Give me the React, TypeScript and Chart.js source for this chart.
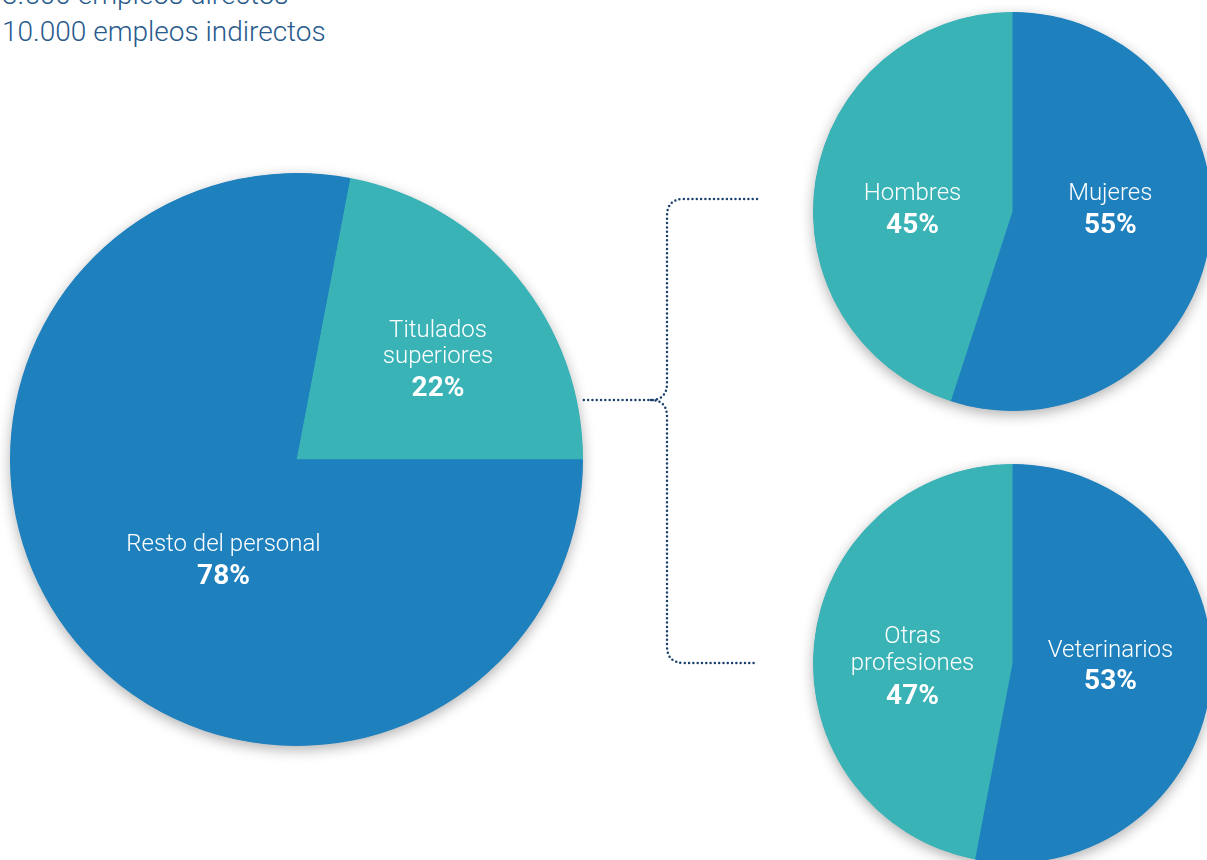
import React, { useEffect, useRef } from "react";
import { Chart, registerables } from "chart.js";

Chart.register(...registerables);

// ---- data ----
const mainLabels = ["Titulados superiores", "Resto del personal"];
const mainValues = [22, 78];

const genderLabels = ["Mujeres", "Hombres"];
const genderValues = [55, 45];

const professionLabels = ["Veterinarios", "Otras profesiones"];
const professionValues = [53, 47];

const headerLines = ["3.500 empleos directos", "10.000 empleos indirectos"];

const BLUE = "#1f80be";
const TEAL = "#3ab3b7";

const shadowPlugin = {
  id: "pieShadow",
  beforeDatasetsDraw(chart: any) {
    const arc = chart.getDatasetMeta(0).data[0];
    if (!arc) return;
    const { x, y, outerRadius } = arc.getProps(["x", "y", "outerRadius"], true);
    const ctx = chart.ctx;
    ctx.save();
    ctx.shadowColor = "rgba(0,0,0,0.32)";
    ctx.shadowBlur = 14;
    ctx.shadowOffsetY = 4;
    ctx.beginPath();
    ctx.arc(x, y, outerRadius - 0.5, 0, Math.PI * 2);
    ctx.fillStyle = BLUE;
    ctx.fill();
    ctx.restore();
  },
};

type PieProps = {
  labels: string[];
  values: number[];
  colors: string[];
  rotation: number;
  size: number;
  left: number;
  top: number;
};

function Pie({ labels, values, colors, rotation, size, left, top }: PieProps) {
  const ref = useRef<HTMLCanvasElement>(null);
  useEffect(() => {
    if (!ref.current) return;
    const chart = new Chart(ref.current, {
      type: "pie",
      data: {
        labels,
        datasets: [
          {
            data: values,
            backgroundColor: colors,
            borderWidth: 0,
          },
        ],
      },
      options: {
        animation: false,
        responsive: false,
        rotation,
        layout: { padding: 20 },
        plugins: {
          legend: { display: false },
          tooltip: { enabled: false },
        },
      },
      plugins: [shadowPlugin],
    });
    return () => chart.destroy();
  }, []);
  return (
    <canvas
      ref={ref}
      width={size}
      height={size}
      style={{ position: "absolute", left, top, width: size, height: size }}
    />
  );
}

type LineSpec = { text: string; baseline: number; size: number; weight: number };

function Label({ x, lines }: { x: number; lines: LineSpec[] }) {
  return (
    <>
      {lines.map((l, i) => (
        <div
          key={i}
          style={{
            position: "absolute",
            left: x,
            top: l.baseline - 0.842 * l.size,
            transform: "translateX(-50%)",
            fontFamily: "Roboto, 'Open Sans', sans-serif",
            fontSize: l.size,
            fontWeight: l.weight,
            lineHeight: `${l.size}px`,
            color: "#ffffff",
            whiteSpace: "nowrap",
          }}
        >
          {l.text}
        </div>
      ))}
    </>
  );
}

const NAME = 24;
const PCT = 28;
const HEAD = 28;

function splitName(s: string): string[] {
  const parts = s.split(" ");
  if (s === "Titulados superiores" || s === "Otras profesiones") return parts;
  return [s];
}

export default function App() {
  return (
    <div
      style={{
        position: "absolute",
        left: 0,
        top: 0,
        width: 1207,
        height: 860,
        overflow: "hidden",
        background: "#ffffff",
      }}
    >
      {/* header */}
      {headerLines.map((t, i) => (
        <div
          key={t}
          style={{
            position: "absolute",
            left: 2,
            top: 41.7 - 36.7 * (headerLines.length - 1 - i) - 0.842 * HEAD,
            fontFamily: "Roboto, sans-serif",
            fontWeight: 300,
            fontSize: HEAD,
            lineHeight: `${HEAD}px`,
            color: "#285a8c",
            whiteSpace: "nowrap",
          }}
        >
          {t}
        </div>
      ))}

      {/* pies */}
      <Pie
        labels={mainLabels}
        values={mainValues}
        colors={[TEAL, BLUE]}
        rotation={90 - (mainValues[0] / 100) * 360}
        size={613}
        left={-10}
        top={153}
      />
      <Pie
        labels={genderLabels}
        values={genderValues}
        colors={[BLUE, TEAL]}
        rotation={0}
        size={439}
        left={792.5}
        top={-8.5}
      />
      <Pie
        labels={professionLabels}
        values={professionValues}
        colors={[BLUE, TEAL]}
        rotation={0}
        size={439}
        left={792.5}
        top={443.5}
      />

      {/* brace connector */}
      <svg
        width={1207}
        height={860}
        style={{ position: "absolute", left: 0, top: 0, pointerEvents: "none" }}
      >
        <path
          d="M757,199 H684 Q667,199 667,216 V383 Q667,400 651,400 H580 M651,400 Q667,400 667,417 V646 Q667,663 684,663 H757"
          fill="none"
          stroke="#1c406d"
          strokeWidth={2.5}
          strokeLinecap="round"
          strokeDasharray="0 4.3"
        />
      </svg>

      {/* labels */}
      <Label
        x={438}
        lines={[
          ...splitName(mainLabels[0]).map((t, i) => ({ text: t, baseline: 337 + i * 26, size: NAME, weight: 300 })),
          { text: `${mainValues[0]}%`, baseline: 397, size: PCT, weight: 700 },
        ]}
      />
      <Label
        x={223.5}
        lines={[
          { text: mainLabels[1], baseline: 551, size: NAME, weight: 300 },
          { text: `${mainValues[1]}%`, baseline: 585, size: PCT, weight: 700 },
        ]}
      />
      <Label
        x={1110.3}
        lines={[
          { text: genderLabels[0], baseline: 200, size: NAME, weight: 300 },
          { text: `${genderValues[0]}%`, baseline: 233.3, size: PCT, weight: 700 },
        ]}
      />
      <Label
        x={912.5}
        lines={[
          { text: genderLabels[1], baseline: 200, size: NAME, weight: 300 },
          { text: `${genderValues[1]}%`, baseline: 233.3, size: PCT, weight: 700 },
        ]}
      />
      <Label
        x={1110.5}
        lines={[
          { text: professionLabels[0], baseline: 657.3, size: NAME, weight: 300 },
          { text: `${professionValues[0]}%`, baseline: 690, size: PCT, weight: 700 },
        ]}
      />
      <Label
        x={912.5}
        lines={[
          ...splitName(professionLabels[1]).map((t, i) => ({ text: t, baseline: 643.3 + i * 26.7, size: NAME, weight: 300 })),
          { text: `${professionValues[1]}%`, baseline: 705, size: PCT, weight: 700 },
        ]}
      />
    </div>
  );
}
